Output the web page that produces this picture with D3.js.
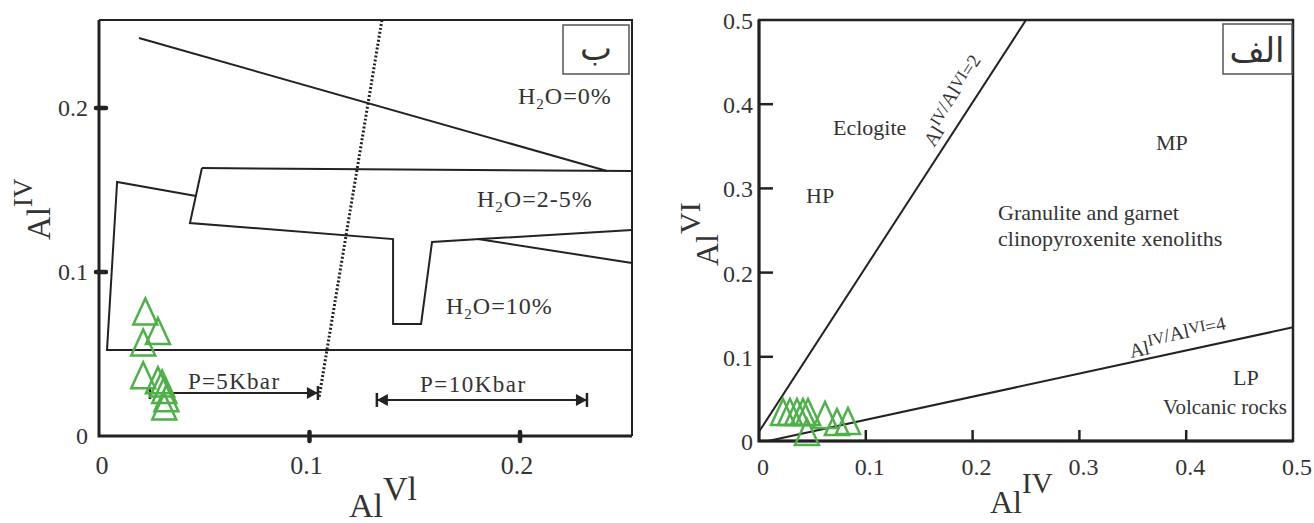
<!DOCTYPE html>
<html><head><meta charset="utf-8">
<script src="https://cdn.jsdelivr.net/npm/d3@7"></script>
<style>
html,body{margin:0;padding:0;background:#fff;}
svg text{font-family:"Liberation Serif","Times New Roman",serif;fill:#333;}
</style></head>
<body>
<svg id="c" width="1314" height="523"></svg>
<script>
// ---------- data ----------
// Left panel (ب): x = Al VI, y = Al IV
const leftAlVI = [0.022, 0.028, 0.021, 0.021, 0.028, 0.030, 0.031, 0.032, 0.031];
const leftAlIV = [0.076, 0.064, 0.057, 0.037, 0.034, 0.032, 0.028, 0.023, 0.018];
const leftXTicks = [0.1, 0.2];
const leftYTicks = [0.1, 0.2];
const leftXLabels = ["0", "0.1", "0.2"];
const leftYLabels = ["0", "0.1", "0.2"];
// boundary lines of left panel (vertices in data units [AlVI, AlIV])
const lineH2O0 = [[0.019, 0.2427], [0.2413, 0.1616]];
const lineH2O25top = [[0.0489, 0.1634], [0.2532, 0.1616]];
const lineH2O25bottom = [[0.0489, 0.1634], [0.0432, 0.1299], [0.1397, 0.1201], [0.1397, 0.0683],
  [0.1530, 0.0683], [0.1582, 0.1183], [0.1810, 0.1201], [0.2532, 0.1256]];
const lineBranch = [[0.1800, 0.1201], [0.2532, 0.1055]];
const lineH2O10 = [[0.0461, 0.1463], [0.0086, 0.1549], [0.0038, 0.0524], [0.2532, 0.0524]];
const lineDotted = [[0.1344, 0.2537], [0.1045, 0.0232]];
const arrow5 = [[0.0242, 0.0262], [0.1040, 0.0262]];
const arrow10 = [[0.1320, 0.0220], [0.2318, 0.0220]];

// Right panel (الف): x = Al IV, y = Al VI
const rightAlIV = [0.0225, 0.029, 0.0356, 0.0412, 0.0459, 0.0618, 0.073, 0.0833, 0.0449];
const rightAlVI = [0.0344, 0.0344, 0.0344, 0.0344, 0.0344, 0.0309, 0.0226, 0.0238, 0.0107];
const rightXTicks = [0.1, 0.2, 0.3, 0.4];
const rightYTicks = [0.1, 0.2, 0.3, 0.4];
const rightXLabels = ["0", "0.1", "0.2", "0.3", "0.4", "0.5"];
const rightYLabels = ["0", "0.1", "0.2", "0.3", "0.4", "0.5"];
const ratio2 = [[0, 0.011], [0.25, 0.5]];
const ratio4 = [[0.0084, 0], [0.5, 0.135]];

// ---------- drawing ----------
const svg = d3.select("#c");
const ink = "#222", green = "#4fb04a";
const tri = "M0,-13L12,13L-12,13Z";

// ===== LEFT PANEL =====
const xL = d3.scaleLinear().domain([0, 0.2532]).range([99, 632]);
const yL = d3.scaleLinear().domain([0, 0.2537]).range([436, 20]);
const gL = svg.append("g");
const lineL = d3.line().x(d => xL(d[0])).y(d => yL(d[1]));

// frame
gL.append("path").attr("d", `M${xL(0)},${yL(0.2537)}H${xL(0.2532)}V${yL(0)}`)
  .attr("fill", "none").attr("stroke", ink).attr("stroke-width", 2);
gL.append("path").attr("d", `M${xL(0)},${yL(0.2537)}V${yL(0)}H${xL(0.2532)}`)
  .attr("fill", "none").attr("stroke", ink).attr("stroke-width", 3);

// ticks (thick, both sides)
gL.selectAll(".ty").data(leftYTicks).join("line")
  .attr("x1", xL(0) - 3).attr("x2", xL(0) + 7).attr("y1", d => yL(d)).attr("y2", d => yL(d))
  .attr("stroke", ink).attr("stroke-width", 4.5).attr("stroke-linecap", "round");
gL.selectAll(".tx").data(leftXTicks).join("line")
  .attr("y1", yL(0) - 4).attr("y2", yL(0) + 5).attr("x1", d => xL(d)).attr("x2", d => xL(d))
  .attr("stroke", ink).attr("stroke-width", 4.5).attr("stroke-linecap", "round");

// tick labels
gL.selectAll(".lx").data(leftXLabels).join("text")
  .attr("x", (d, i) => xL(i * 0.1) + (i === 0 ? 3 : -3)).attr("y", yL(0) + 38)
  .attr("text-anchor", "middle").attr("font-size", 26).text(d => d);
gL.selectAll(".ly").data(leftYLabels).join("text")
  .attr("x", xL(0) - 11).attr("y", (d, i) => yL(i * 0.1) + 8)
  .attr("text-anchor", "end").attr("font-size", 24).text(d => d);

// axis titles
const tx = gL.append("text").attr("x", 349).attr("y", 517).attr("font-size", 34);
tx.append("tspan").text("Al");
tx.append("tspan").attr("dy", -17).text("Vl");
const ty = gL.append("text").attr("transform", "translate(50,240) rotate(-90)").attr("font-size", 33);
ty.append("tspan").text("Al");
ty.append("tspan").attr("dy", -18).attr("font-size", 27).text("IV");

// boundaries
[lineH2O0, lineH2O25top, lineH2O25bottom, lineBranch, lineH2O10].forEach(l =>
  gL.append("path").attr("d", lineL(l)).attr("fill", "none").attr("stroke", ink)
    .attr("stroke-width", 2).attr("stroke-linejoin", "miter"));
gL.append("path").attr("d", lineL(lineDotted)).attr("fill", "none").attr("stroke", ink)
  .attr("stroke-width", 3).attr("stroke-dasharray", "2,2");

// pressure arrows
function arrowHead(g, x, y, dir) { // dir = +1 pointing right, -1 left
  g.append("path").attr("d", `M${x},${y}L${x - dir * 11},${y - 6}L${x - dir * 11},${y + 6}Z`).attr("fill", ink);
  g.append("line").attr("x1", x).attr("x2", x).attr("y1", y - 7).attr("y2", y + 7)
    .attr("stroke", ink).attr("stroke-width", 2.5);
}
[arrow5, arrow10].forEach(a =>
  gL.append("path").attr("d", lineL(a)).attr("stroke", ink).attr("stroke-width", 2));
arrowHead(gL, xL(arrow5[1][0]), yL(arrow5[1][1]), 1);
gL.append("line").attr("x1", xL(arrow5[0][0])).attr("x2", xL(arrow5[0][0]))
  .attr("y1", yL(arrow5[0][1]) - 6).attr("y2", yL(arrow5[0][1]) + 6).attr("stroke", ink).attr("stroke-width", 2.5);
arrowHead(gL, xL(arrow10[0][0]), yL(arrow10[0][1]), -1);
arrowHead(gL, xL(arrow10[1][0]), yL(arrow10[1][1]), 1);

// region labels
function h2o(g, x, y, rest) {
  const t = g.append("text").attr("x", x).attr("y", y).attr("font-size", 24).attr("letter-spacing", 1);
  t.append("tspan").text("H");
  t.append("tspan").attr("font-size", 15).attr("dy", 5).text("2");
  t.append("tspan").attr("dy", -5).text("O=" + rest);
}
h2o(gL, 518, 104, "0%");
h2o(gL, 477, 207, "2-5%");
h2o(gL, 446, 314, "10%");
gL.append("text").attr("x", 188).attr("y", 389).attr("font-size", 23).attr("letter-spacing", 1.3).text("P=5Kbar");
gL.append("text").attr("x", 420).attr("y", 392).attr("font-size", 23).attr("letter-spacing", 1.5).text("P=10Kbar");

// panel letter box
gL.append("rect").attr("x", 563).attr("y", 25).attr("width", 66).attr("height", 49)
  .attr("fill", "#fff").attr("stroke", "#555").attr("stroke-width", 1.5);
gL.append("text").attr("x", 596).attr("y", 60).attr("text-anchor", "middle")
  .style("font-family", "'DejaVu Sans',sans-serif").attr("font-size", 34).text("ب");

// samples
gL.selectAll(".s").data(leftAlVI).join("path")
  .attr("d", tri).attr("transform", (d, i) => `translate(${xL(d)},${yL(leftAlIV[i])})`)
  .attr("fill", "none").attr("stroke", green).attr("stroke-width", 2.5);

// ===== RIGHT PANEL =====
const xR = d3.scaleLinear().domain([0, 0.5]).range([759, 1293]);
const yR = d3.scaleLinear().domain([0, 0.5]).range([441, 20]);
const gR = svg.append("g");
const lineR = d3.line().x(d => xR(d[0])).y(d => yR(d[1]));

gR.append("rect").attr("x", xR(0)).attr("y", yR(0.5)).attr("width", xR(0.5) - xR(0))
  .attr("height", yR(0) - yR(0.5)).attr("fill", "none").attr("stroke", ink).attr("stroke-width", 2.5);
gR.append("path").attr("d", `M${xR(0)},${yR(0.5)}V${yR(0)}H${xR(0.5)}`)
  .attr("fill", "none").attr("stroke", ink).attr("stroke-width", 3);

gR.selectAll(".ty").data(rightYTicks).join("line")
  .attr("x1", xR(0)).attr("x2", xR(0) + 14).attr("y1", d => yR(d)).attr("y2", d => yR(d))
  .attr("stroke", ink).attr("stroke-width", 2.5);
gR.selectAll(".tx").data(rightXTicks).join("line")
  .attr("y1", yR(0)).attr("y2", yR(0) - 11).attr("x1", d => xR(d)).attr("x2", d => xR(d))
  .attr("stroke", ink).attr("stroke-width", 2.5);

gR.selectAll(".lx").data(rightXLabels).join("text")
  .attr("x", (d, i) => xR(i * 0.1) + 4).attr("y", yR(0) + 34)
  .attr("text-anchor", "middle").attr("font-size", 24).text(d => d);
gR.selectAll(".ly").data(rightYLabels).join("text")
  .attr("x", xR(0) - 6).attr("y", (d, i) => yR(i * 0.1) + 9)
  .attr("text-anchor", "end").attr("font-size", 24).text(d => d);

const rx = gR.append("text").attr("x", 990).attr("y", 513).attr("font-size", 32);
rx.append("tspan").text("Al");
rx.append("tspan").attr("dy", -20).attr("font-size", 29).text("IV");
const ry = gR.append("text").attr("transform", "translate(718,266) rotate(-90)").attr("font-size", 32);
ry.append("tspan").text("Al");
ry.append("tspan").attr("dy", -18).attr("font-size", 30).text("VI");

[ratio2, ratio4].forEach(l =>
  gR.append("path").attr("d", lineR(l)).attr("fill", "none").attr("stroke", ink).attr("stroke-width", 2));

function ratioLabel(g, l, x, y, val) {
  const a = Math.atan2(yR(l[1][1]) - yR(l[0][1]), xR(l[1][0]) - xR(l[0][0])) * 180 / Math.PI;
  const t = g.append("text").attr("transform", `translate(${x},${y}) rotate(${a})`).attr("font-size", 20);
  t.append("tspan").text("Al");
  t.append("tspan").attr("dy", -8).attr("font-size", 16).text("IV");
  t.append("tspan").attr("font-size", 20).text("/Al");
  t.append("tspan").attr("dy", -3).attr("font-size", 16).text("VI");
  t.append("tspan").attr("dy", 3).attr("font-size", 19).text("=" + val);
}
ratioLabel(gR, ratio2, 934, 148, 2);
ratioLabel(gR, ratio4, 1131, 358, 4);

const txt = (x, y, s, fs) => gR.append("text").attr("x", x).attr("y", y).attr("font-size", fs || 22).text(s);
txt(833, 135, "Eclogite");
txt(806, 203, "HP");
txt(1156, 150, "MP");
txt(998, 220, "Granulite and garnet");
txt(998, 246, "clinopyroxenite xenoliths");
txt(1233, 385, "LP");
txt(1163, 414, "Volcanic rocks", 21);

gR.append("rect").attr("x", 1223).attr("y", 24).attr("width", 69).attr("height", 50)
  .attr("fill", "#fff").attr("stroke", "#555").attr("stroke-width", 1.5);
gR.append("text").attr("x", 1257).attr("y", 62).attr("text-anchor", "middle")
  .style("font-family", "'DejaVu Sans',sans-serif").attr("font-size", 34).text("الف");

gR.selectAll(".s").data(rightAlIV).join("path")
  .attr("d", tri).attr("transform", (d, i) => `translate(${xR(d)},${yR(rightAlVI[i])})`)
  .attr("fill", "none").attr("stroke", green).attr("stroke-width", 2.5);
</script>
</body></html>
